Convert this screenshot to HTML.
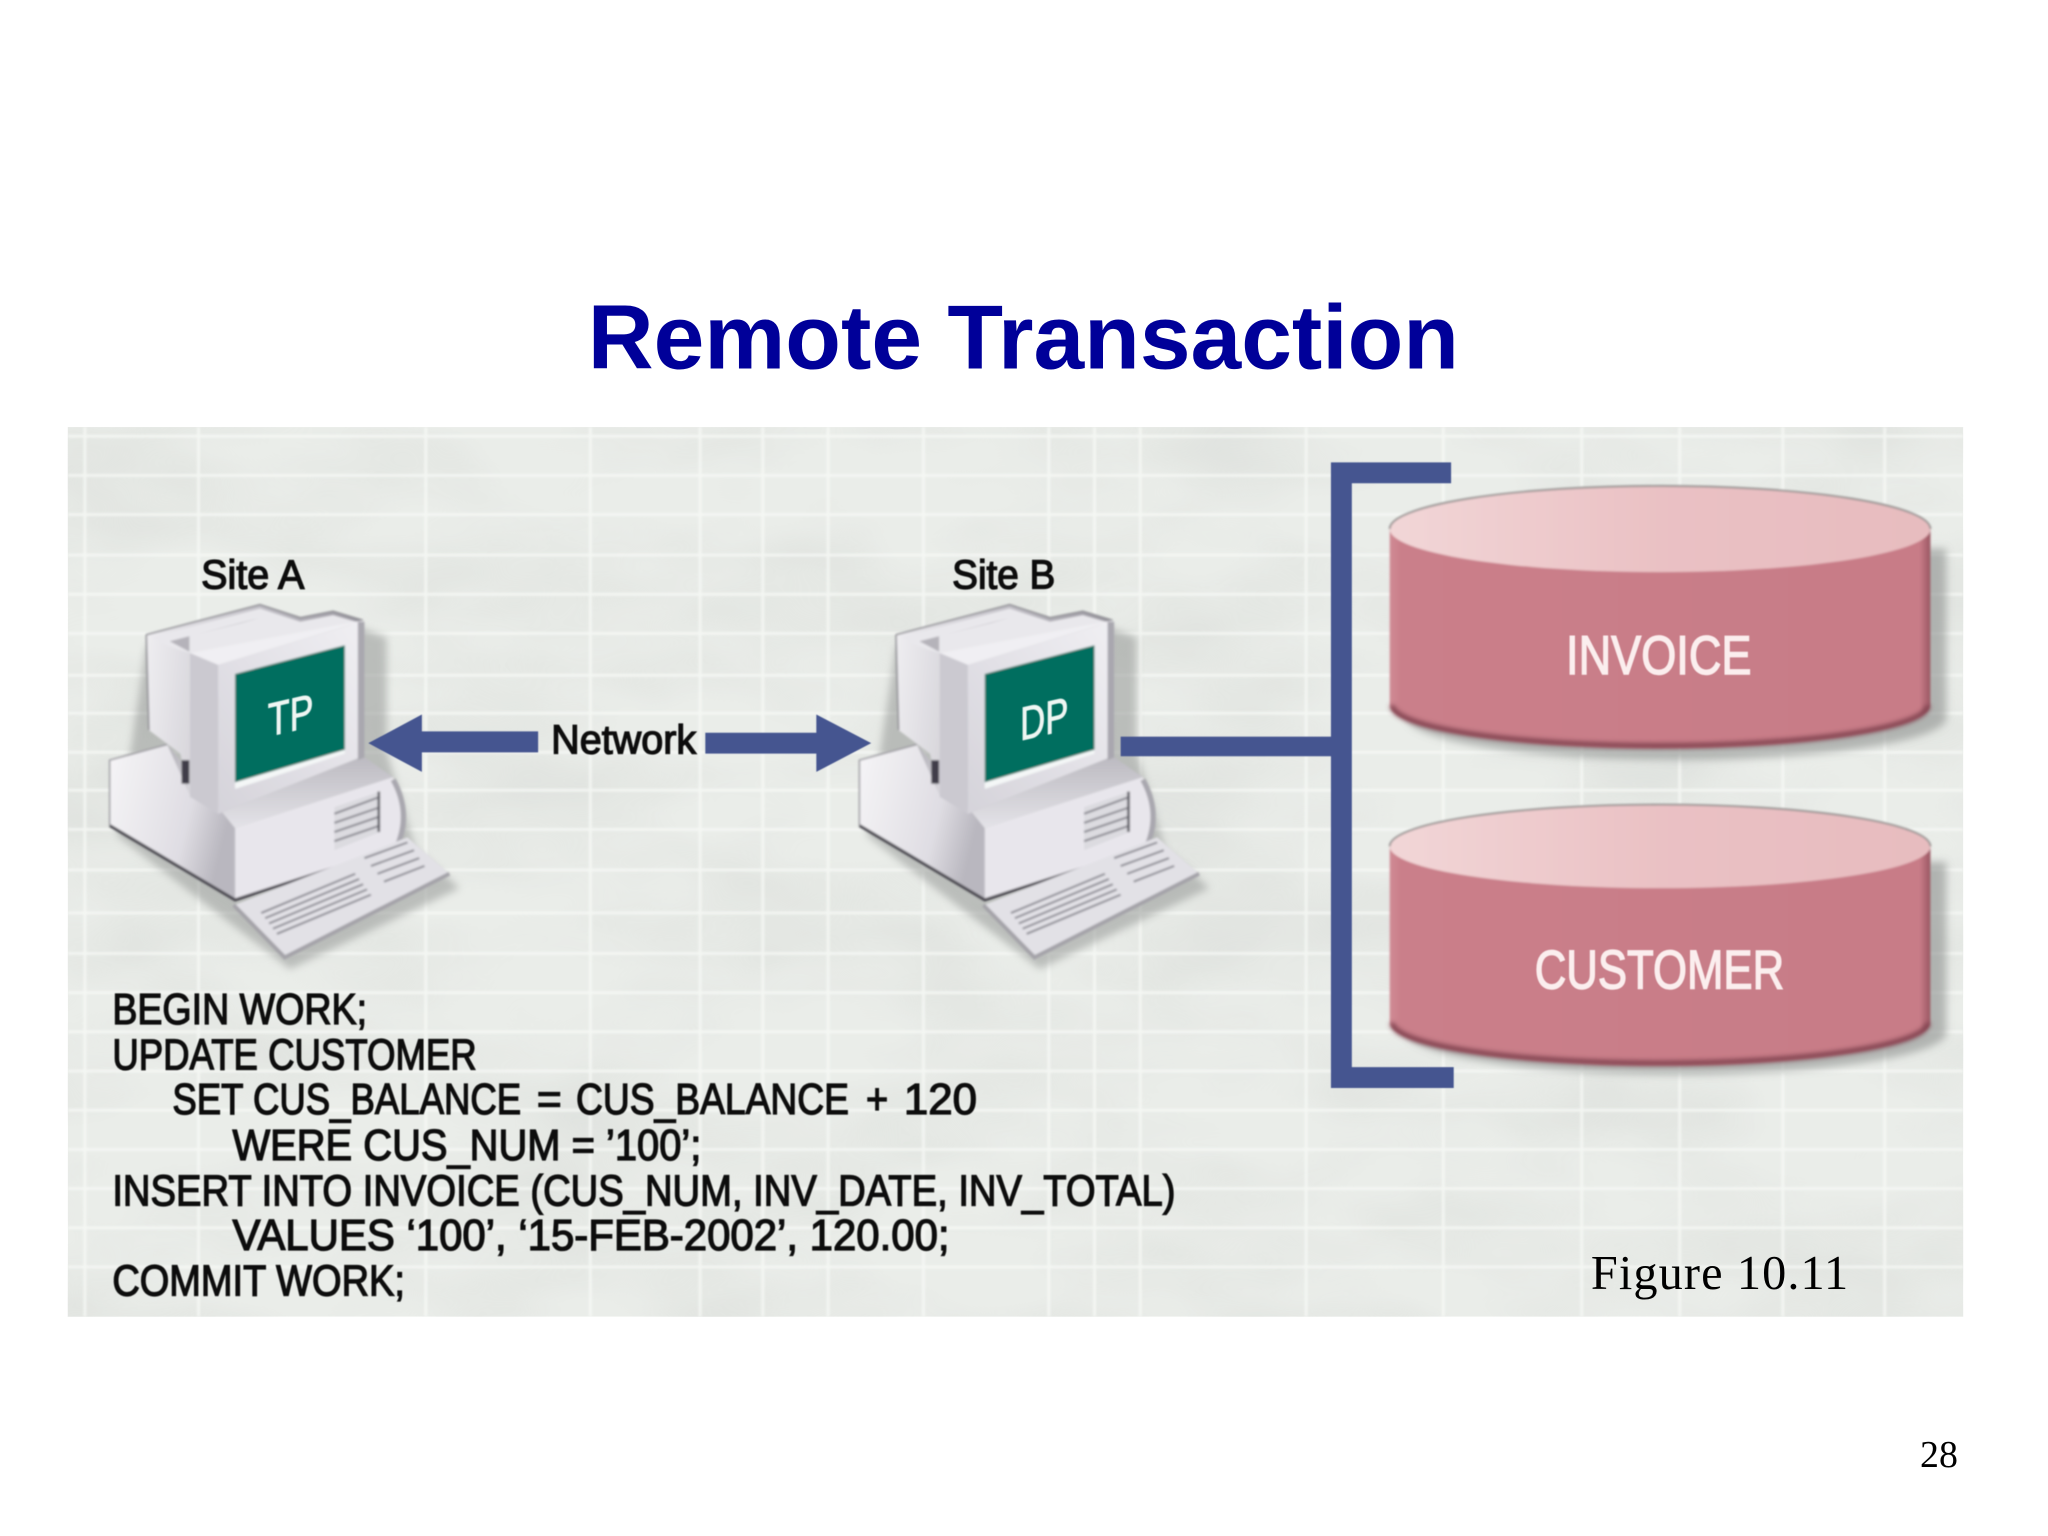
<!DOCTYPE html>
<html><head><meta charset="utf-8"><title>Remote Transaction</title>
<style>html,body{margin:0;padding:0;background:#fff;width:2048px;height:1536px;overflow:hidden}svg{display:block}
text{font-family:"Liberation Sans",sans-serif}</style></head><body>
<svg xmlns="http://www.w3.org/2000/svg" xmlns:xlink="http://www.w3.org/1999/xlink" width="2048" height="1536" viewBox="0 0 1568 1176">
<defs>
<filter id="cloud" x="0" y="0" width="100%" height="100%"><feTurbulence type="fractalNoise" baseFrequency="0.006 0.012" numOctaves="3" seed="7"/><feColorMatrix values="0 0 0 0 .6  0 0 0 0 .62  0 0 0 0 .6  1.6 0 0 0 -.62"/></filter>
<filter id="soft" x="-5%" y="-5%" width="110%" height="110%"><feGaussianBlur stdDeviation="0.8"/></filter>
<filter id="txt" x="-5%" y="-20%" width="110%" height="140%"><feGaussianBlur stdDeviation="0.4"/></filter>
<filter id="grid" x="0" y="0" width="100%" height="100%"><feGaussianBlur stdDeviation="0.9"/></filter>
<filter id="sh" x="-10%" y="-20%" width="120%" height="140%"><feGaussianBlur stdDeviation="3"/></filter>
<filter id="rim" x="-5%" y="-20%" width="110%" height="140%"><feGaussianBlur stdDeviation="1.6"/></filter>
<linearGradient id="body" x1="0" x2="1" y1="0" y2="0"><stop offset="0" stop-color="#d08b95"/><stop offset=".02" stop-color="#ca7f8a"/><stop offset=".98" stop-color="#c87c87"/><stop offset="1" stop-color="#9a5763"/></linearGradient>
<linearGradient id="top" x1="0" x2="1"><stop offset="0" stop-color="#f2d6d7"/><stop offset=".5" stop-color="#eac1c4"/><stop offset="1" stop-color="#e7bcbf"/></linearGradient>
<linearGradient id="back" x1="0" x2="1" y1="0" y2=".1"><stop offset="0" stop-color="#f0eff2"/><stop offset=".5" stop-color="#c5c3ca"/><stop offset="1" stop-color="#96949c"/></linearGradient>
<linearGradient id="base" x1="0" x2="1" y1="0" y2=".3"><stop offset="0" stop-color="#f6f5f7"/><stop offset=".7" stop-color="#dfdde3"/><stop offset="1" stop-color="#b9b7bf"/></linearGradient>
<linearGradient id="front" x1="0" x2="1" y1="1" y2="0"><stop offset="0" stop-color="#d5d3da"/><stop offset="1" stop-color="#f0eff3"/></linearGradient>
<linearGradient id="btop" x1="0" x2="0" y1="0" y2="1"><stop offset="0" stop-color="#b5b3ba"/><stop offset="1" stop-color="#e4e3e8"/></linearGradient>
<g id="pc">
 <polygon points="112,495 200,470 236,480 258,474 296,488 296,575 318,650 352,680 222,742 174,705 90,640" fill="#8d908e" opacity=".5" filter="url(#sh)"/>
 <g filter="url(#soft)">
 <polygon points="84,582 128,570 180,634 180,689 84,632" fill="url(#base)"/>
 <polygon points="128,570 146,610 167,623 278,579 301,595 180,634" fill="url(#btop)"/>
 <polygon points="180,634 301,595 311,625 303,650 180,689" fill="#e8e6ec"/>
 <polyline points="84,632 180,689 300,650" fill="none" stroke="#45434b" stroke-width="2.2"/>
 <polyline points="84,632 84,582 128,570" fill="none" stroke="#9a999f" stroke-width="1.2"/>
 <path d="M301,597 Q315,622 304,648" fill="none" stroke="#a9a7af" stroke-width="4"/>
 <polygon points="256,618 291,606 291,637 256,651" fill="#dcdbe0"/>
 <path d="M256,623 L291,610 M256,630 L291,618 M256,637 L291,625 M256,644 L291,632" stroke="#8b8a92" stroke-width="1.6" fill="none"/>
 <path d="M290,606 V637" stroke="#5f5e66" stroke-width="2" fill="none"/>
 <polygon points="112,486 199,463 230,473 255,468 278,475 278,500 146,540 146,612 138,577 114,559" fill="url(#back)"/>
 <polygon points="116,488 199,466 230,476 255,471 276,477 145,500 130,495 128,494" fill="#e9e8ec"/>
 <polygon points="130,491 199,473 185,477 145,487 145,499" fill="#b5b3ba"/>
 <path d="M112,486 L199,463 L230,473 L255,468 L278,475 M112,486 L114,559" fill="none" stroke="#8e8d93" stroke-width="1.2"/>
 <rect x="139" y="582" width="6" height="18" fill="#3f3e48"/>
 <polygon points="145.5,500 167,509 167,623 145.5,610" fill="#cbc9d0"/>
 <polygon points="145.5,500 278,475 273,477 167,509" fill="#f0eff3"/>
 <polygon points="167,509 273,477 278,475 278,579 167,623" fill="url(#front)"/>
 <polygon points="274,476 279,476 279,580 274,582" fill="#a9a7af"/>
 <polygon points="180,516 264,494 264,574 180,599" fill="#056e5f"/>
 <polygon points="180,599 264,574 264,577 180,604" fill="#f4f7f7"/>
 <polygon points="179,693 312,641 344,669 218,733" fill="#e2e1e6"/>
 <polyline points="179,693 218,733 344,669" fill="none" stroke="#a4a3a9" stroke-width="3"/>
 <path d="M200,699 L272,669 M203,703 L275,673 M206,707 L278,677 M209,711 L281,681 M212,715 L284,685" stroke="#8e8d95" stroke-width="1.6" fill="none"/>
 <path d="M279,657 L312,645 M284,663 L317,651 M289,669 L321,657 M294,675 L325,663" stroke="#8e8d95" stroke-width="1.6" fill="none"/>
 </g>
</g>
</defs>
<rect width="1568" height="1176" fill="#fff"/>
<text x="783.5" y="282" text-anchor="middle" font-size="69.4" font-weight="700" fill="#000099" textLength="667" lengthAdjust="spacingAndGlyphs">Remote Transaction</text>

<rect x="52" y="327" width="1451" height="681" fill="#eaede9"/>
<rect x="52" y="327" width="1451" height="681" filter="url(#cloud)" opacity=".45"/>
<g stroke="#f8faf7" stroke-width="2.2" fill="none" opacity=".75" filter="url(#grid)">
<path d="M65,327V1008M152,327V1008M326,327V1008M452,327V1008M536,327V1008M584,327V1008M634,327V1008M707,327V1008M803,327V1008M838,327V1008M873,327V1008M1000,327V1008M1105,327V1008M1211,327V1008M1286,327V1008M1365,327V1008M1443,327V1008"/>
<path d="M52,334H1503M52,364H1503M52,394H1503M52,425H1503M52,455H1503M52,485H1503M52,517H1503M52,546H1503M52,576H1503M52,605H1503M52,635H1503M52,666H1503M52,699H1503M52,730H1503M52,760H1503M52,790H1503M52,820H1503M52,850H1503M52,880H1503M52,910H1503M52,940H1503M52,970H1503"/>
</g>

<use xlink:href="#pc" href="#pc"/>
<use xlink:href="#pc" href="#pc" transform="translate(574,0)"/>

<!-- connectors -->
<g fill="#455590" filter="url(#txt)">
<polygon points="282,569 323,547 323,560 412,560 412,576 323,576 323,591"/>
<polygon points="667,569 625,547 625,561 540,561 540,577 625,577 625,591"/>
<rect x="858" y="564" width="165" height="15"/>
<path d="M1019,354H1111V370H1035V817H1113V833H1019Z"/>
</g>

<!-- cylinders -->
<g filter="url(#soft)">
<path d="M1078,420V552A207,33 0 0 0 1490,552V420Z" fill="#8d908e" opacity=".6" filter="url(#sh)"/>
<path d="M1064,405V540A207,33 0 0 0 1478,540V405Z" fill="url(#body)"/>
<path d="M1066,540A205,31 0 0 0 1476,540" fill="none" stroke="#80434f" stroke-width="4" filter="url(#rim)"/>
<ellipse cx="1271" cy="405" rx="207" ry="33" fill="url(#top)"/>
<path d="M1064,405A207,33 0 0 1 1478,405" fill="none" stroke="#9a9594" stroke-width="1.5"/>
<path d="M1078,660V793A207,33 0 0 0 1490,793V660Z" fill="#8d908e" opacity=".6" filter="url(#sh)"/>
<path d="M1064,648V783A207,33 0 0 0 1478,783V648Z" fill="url(#body)"/>
<path d="M1066,783A205,31 0 0 0 1476,783" fill="none" stroke="#80434f" stroke-width="4" filter="url(#rim)"/>
<ellipse cx="1271" cy="648" rx="207" ry="32" fill="url(#top)"/>
<path d="M1064,648A207,32 0 0 1 1478,648" fill="none" stroke="#9a9594" stroke-width="1.5"/>
</g>

<g filter="url(#txt)">
<text x="1199" y="516" font-size="42" fill="#fbeeee" stroke="#fbeeee" stroke-width="1.1" textLength="142" lengthAdjust="spacingAndGlyphs">INVOICE</text>
<text x="1175" y="757" font-size="42" fill="#fbeeee" stroke="#fbeeee" stroke-width="1.1" textLength="191" lengthAdjust="spacingAndGlyphs">CUSTOMER</text>
<text transform="translate(205,564) skewY(-13)" font-size="36" fill="#eef6f3" stroke="#eef6f3" stroke-width=".7" textLength="35" lengthAdjust="spacingAndGlyphs">TP</text>
<text transform="translate(781,567) skewY(-13)" font-size="36" fill="#eef6f3" stroke="#eef6f3" stroke-width=".7" textLength="37" lengthAdjust="spacingAndGlyphs">DP</text>
<g fill="#0e0e0e" stroke="#0e0e0e" stroke-width="1">
<text x="154" y="450.5" font-size="31" textLength="79" lengthAdjust="spacingAndGlyphs">Site A</text>
<text x="729" y="450.5" font-size="31" textLength="79" lengthAdjust="spacingAndGlyphs">Site B</text>
<text x="422" y="577" font-size="31" textLength="111" lengthAdjust="spacingAndGlyphs">Network</text>
<text x="86" y="784" font-size="33" textLength="195" lengthAdjust="spacingAndGlyphs">BEGIN WORK;</text>
<text x="86" y="819" font-size="33" textLength="279" lengthAdjust="spacingAndGlyphs">UPDATE CUSTOMER</text>
<text x="132" y="853" font-size="33" textLength="267" lengthAdjust="spacingAndGlyphs">SET CUS_BALANCE</text>
<text x="411" y="853" font-size="33" textLength="19" lengthAdjust="spacingAndGlyphs">=</text>
<text x="441" y="853" font-size="33" textLength="209" lengthAdjust="spacingAndGlyphs">CUS_BALANCE</text>
<text x="663" y="853" font-size="33" textLength="17" lengthAdjust="spacingAndGlyphs">+</text>
<text x="692" y="853" font-size="33" textLength="56" lengthAdjust="spacingAndGlyphs">120</text>
<text x="178" y="888" font-size="33" textLength="359" lengthAdjust="spacingAndGlyphs">WERE CUS_NUM = ’100’;</text>
<text x="86" y="923" font-size="33" textLength="814" lengthAdjust="spacingAndGlyphs">INSERT INTO INVOICE (CUS_NUM, INV_DATE, INV_TOTAL)</text>
<text x="178" y="957" font-size="33" textLength="549" lengthAdjust="spacingAndGlyphs">VALUES ‘100’, ‘15-FEB-2002’, 120.00;</text>
<text x="86" y="992" font-size="33" textLength="224" lengthAdjust="spacingAndGlyphs">COMMIT WORK;</text>
</g>
</g>
<text x="1218" y="987" font-size="37" fill="#000" style="font-family:'Liberation Serif',serif" textLength="197">Figure 10.11</text>
<text x="1470" y="1123" font-size="29" fill="#000" style="font-family:'Liberation Serif',serif" textLength="29">28</text>
</svg>
</body></html>
